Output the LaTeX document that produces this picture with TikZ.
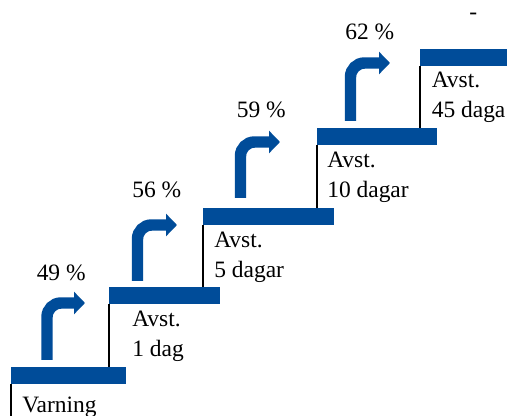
\documentclass[tikz,border=0pt]{standalone}
\usepackage{fontspec}
\setmainfont{Liberation Serif}
\newfontfamily\stepfont{Liberation Serif}
\usetikzlibrary{arrows.meta}

\definecolor{stepblue}{RGB}{0,76,153}

\tikzset{
  stepbar/.style={fill=stepblue, inner sep=0pt, minimum height=12.3pt, anchor=north west},
  riser/.style={black, line width=1.5pt},
  jump/.style={stepblue, line width=8.6pt, rounded corners=10.5pt, -{Triangle[length=8.25pt, width=16.5pt]}},
  pct/.style={anchor=base west, inner sep=0pt, font=\stepfont\fontsize{17.6pt}{22pt}\selectfont},
  lbl/.style={anchor=north west, inner sep=0pt, align=left, font=\stepfont\fontsize{17.6pt}{22pt}\selectfont},
}

\begin{document}
\begin{tikzpicture}[x=0.75pt, y=-0.75pt]
                
                \useasboundingbox (0,0) rectangle (507,416);
                
                % steps
                \node[stepbar, minimum width=86.25pt] (b1) at (11,367) {};
                \node[stepbar, minimum width=83.25pt] (b2) at (109,287) {};
                \node[stepbar, minimum width=98.25pt] (b3) at (203,208) {};
                \node[stepbar, minimum width=90pt]    (b4) at (317,128) {};
                \node[stepbar, minimum width=65.25pt] (b5) at (420,49) {};
                \coordinate (floor) at (11,416);
                
                % labels under the steps
                \node[lbl] (varning) at (22,397) {Varning};
                \node[lbl] (d1)  at (132,311) {Avst.\\1 dag};
                \node[lbl] (d5)  at (214,232) {Avst.\\5 dagar};
                \node[lbl] (d10) at (327,152) {Avst.\\10 dagar};
                \node[lbl] (d45) at (431.5,72) {Avst.\\45 daga};
                
                % shares
                \node[pct] (p49) at (36.5,281) {49 \%};
                \node[pct] (p56) at (132,197.5) {56 \%};
                \node[pct] (p59) at (236.5,118) {59 \%};
                \node[pct] (p62) at (345,39.5) {62 \%};
                \node[pct] (dash) at (469,20) {-};
                
                \draw[riser] (b1.south west) -- (b1.south west |- floor) ; %
                \draw[riser] (b2.south west) -- (b2.south west |- b1.north) ; %
                \draw[riser] (b3.south west) -- (b3.south west |- b2.north) ; %
                \draw[riser] (b4.south west) -- (b4.south west |- b3.north) ; %
                \draw[riser] (b5.south west) -- (b5.south west |- b4.north) ; %
                
                \draw[jump] (47,360) |- ++(38,-57) ; %
                \draw[jump] (137.5,281) |- ++(39.5,-56) ; %
                \draw[jump] (240.5,198) |- ++(39.5,-56) ; %
                \draw[jump] (350.5,121) |- ++(39.5,-58) ; %
                
\end{tikzpicture}
\end{document}
